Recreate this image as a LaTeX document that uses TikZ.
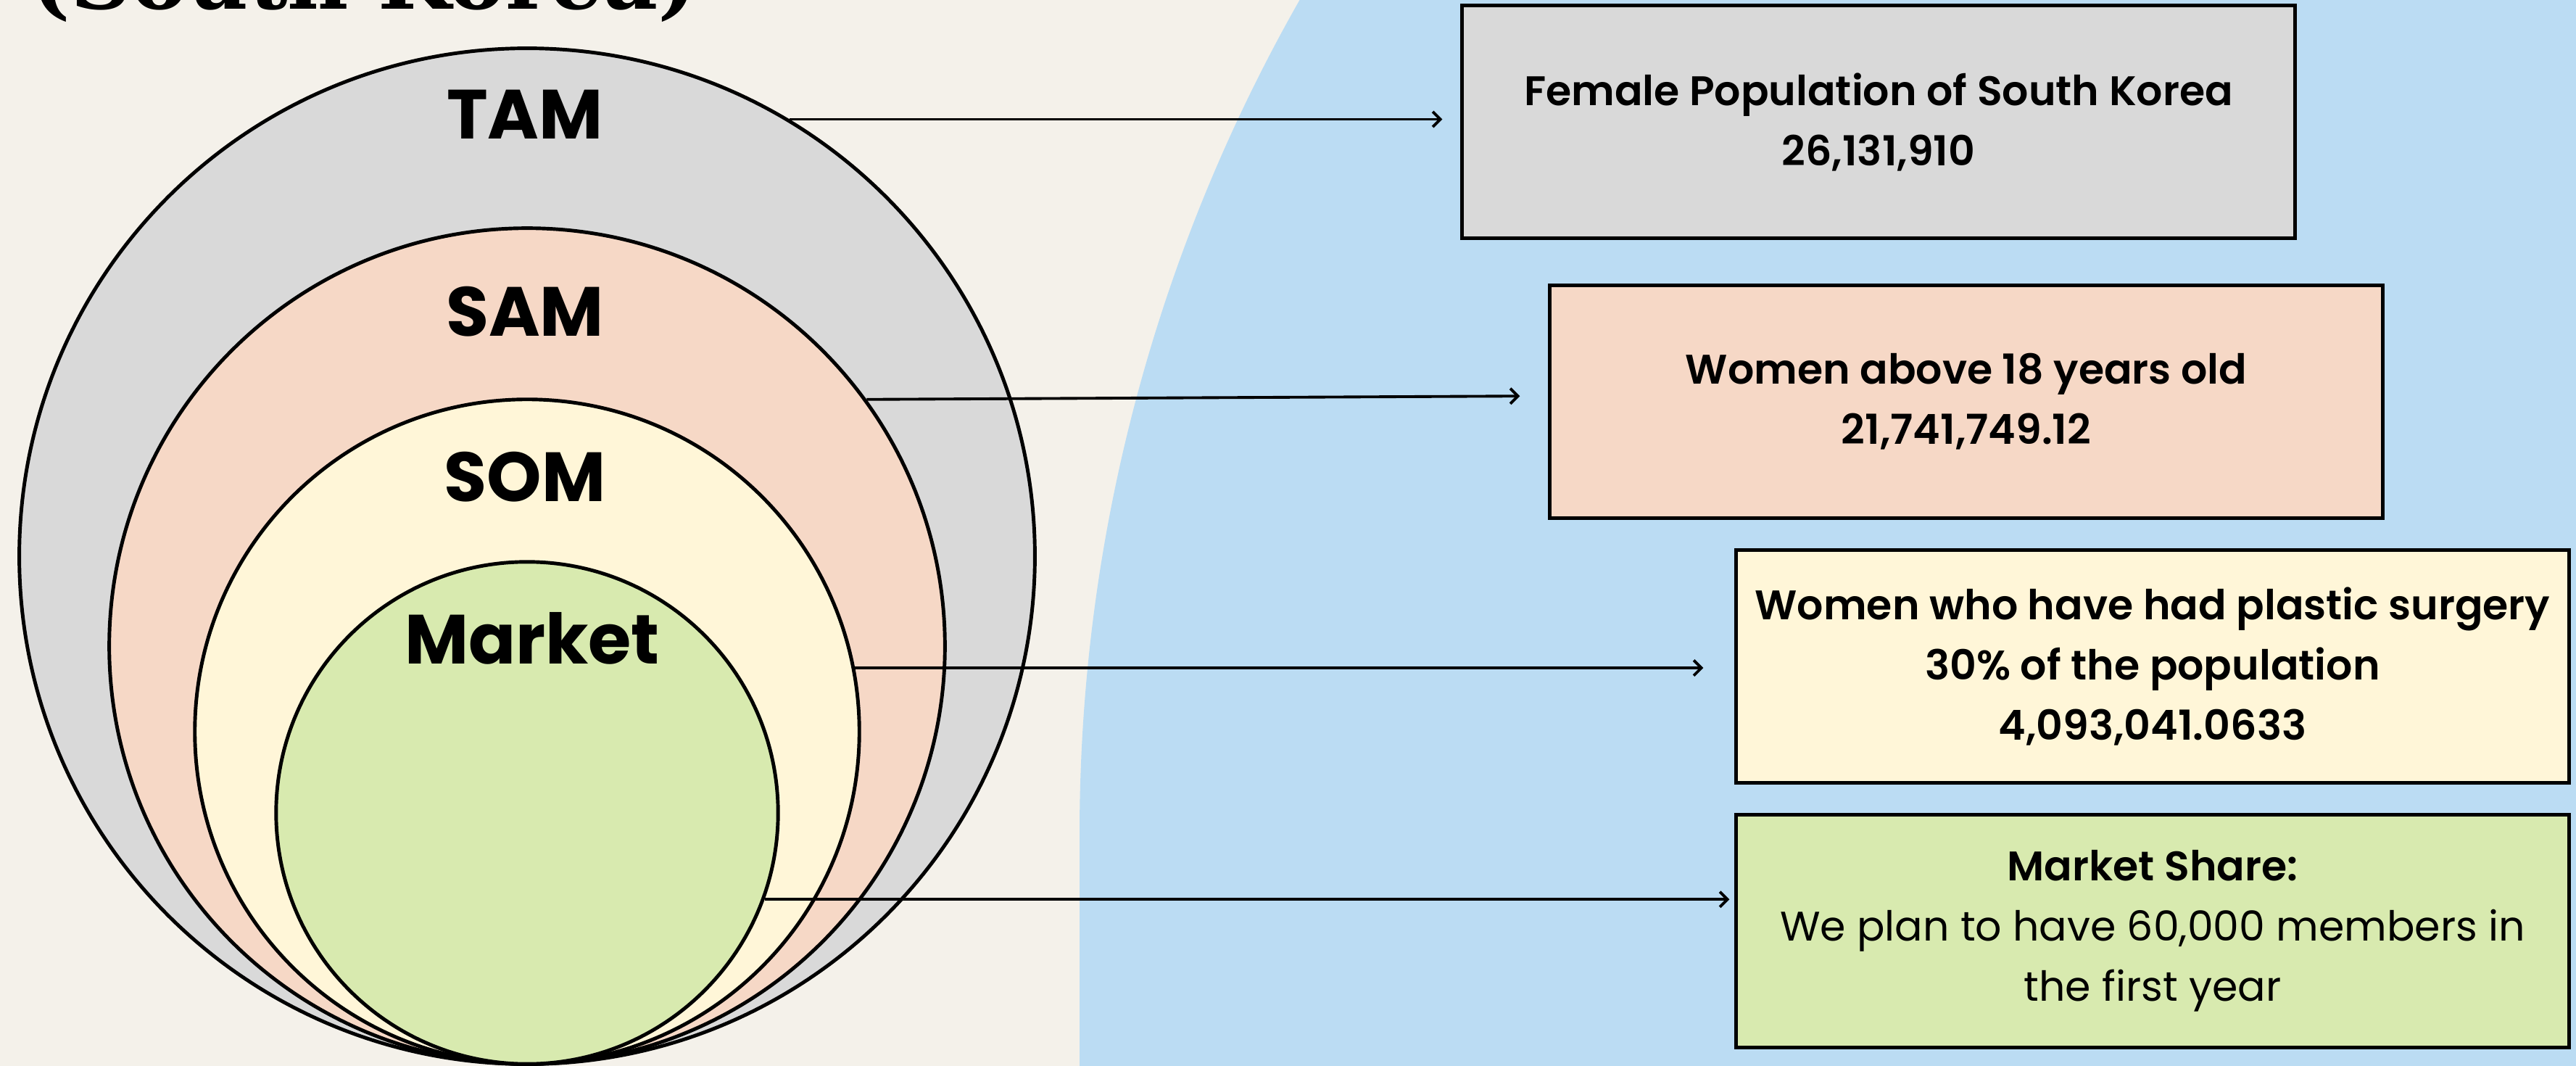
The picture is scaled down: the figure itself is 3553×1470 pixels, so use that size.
\documentclass[tikz,border=0pt]{standalone}
\usepackage{fontspec}
\setmainfont{Poppins}
\newfontfamily\semib{Poppins SemiBold}
\newfontfamily\titlefont{DejaVu Serif}
\usetikzlibrary{arrows.meta}

\definecolor{creambg}{HTML}{F4F1EA}
\definecolor{bluebg}{HTML}{BBDCF3}
\definecolor{tamgrey}{HTML}{D9D9D9}
\definecolor{sampeach}{HTML}{F6D8C6}
\definecolor{somyellow}{HTML}{FFF6D8}
\definecolor{mktgreen}{HTML}{D8EAAF}

\begin{document}
\begin{tikzpicture}[
        x=0.01cm, y=-0.01cm,
        font=\semib\fontsize{16.2}{23.6}\selectfont
    ]
    \tikzset{
        mycircle/.style = {circle, draw=black, line width=1.4pt, inner sep=0pt},
        mybox/.style = {rectangle, draw=black, line width=1.3pt, align=center,
                        minimum width=11.48cm, minimum height=3.21cm, inner sep=0pt},
        mylabel/.style = {anchor=base, font=\bfseries\fontsize{27.3}{30}\selectfont},
        myarrow/.style = {-{Straight Barb[length=3pt,width=6pt]}, line width=1.1pt},
    }
    \useasboundingbox (0,0) rectangle (3553,1470);
    \fill[creambg] (0,0) rectangle (3553,1470);
    \fill[bluebg] (3816,1150) circle[radius=2327];
    \fill[bluebg] (1489,1150) rectangle (3553,1470);
    %
    \node[anchor=base west, inner sep=0pt,
          font=\titlefont\bfseries\fontsize{33}{36}\selectfont] at (42,13) (title) {(South Korea)};
    %
    \node[mycircle, fill=tamgrey, minimum size=14cm] at (727,767) (tam) {};
    \node[mycircle, fill=sampeach, minimum size=11.52cm] at (727,891) (sam) {};
    \node[mycircle, fill=somyellow, minimum size=9.16cm] at (727,1009) (som) {};
    \node[mycircle, fill=mktgreen, minimum size=6.92cm] at (727,1121) (mkt) {};
    %
    \node[mylabel] at (724,192) (tamlbl) {TAM};
    \node[mylabel] at (724,464) (samlbl) {SAM};
    \node[mylabel] at (724,692) (somlbl) {SOM};
    \node[mylabel] at (734,915) (mktlbl) {Market};
    %
    \node[mybox, fill=tamgrey] at (2591,168) (tambox)
        {Female Population of South Korea\\26,131,910};
    \node[mybox, fill=sampeach] at (2712,554) (sambox)
        {Women above 18 years old\\21,741,749.12};
    \node[mybox, fill=somyellow] at (2969,919) (sombox)
        {Women who have had plastic surgery\\30\% of the population\\4,093,041.0633};
    \node[mybox, fill=mktgreen] at (2969,1284) (mktbox)
        {Market Share:\\\rmfamily We plan to have 60,000 members in\\\rmfamily the first year};
    %
    \draw[myarrow, shorten >=0.25cm] (tam.59.3) -- (tam.59.3 -| tambox.west);
    \draw[myarrow, shorten >=0.39cm] (sam.36) -- ([yshift=0.08cm]sambox.west);
    \draw[myarrow, shorten >=0.43cm] (som.11) -- (som.11 -| sombox.west);
    \draw[myarrow, shorten >=0.07cm] (mkt.-20.3) -- (mkt.-20.3 -| mktbox.west);
\end{tikzpicture}
\end{document}
